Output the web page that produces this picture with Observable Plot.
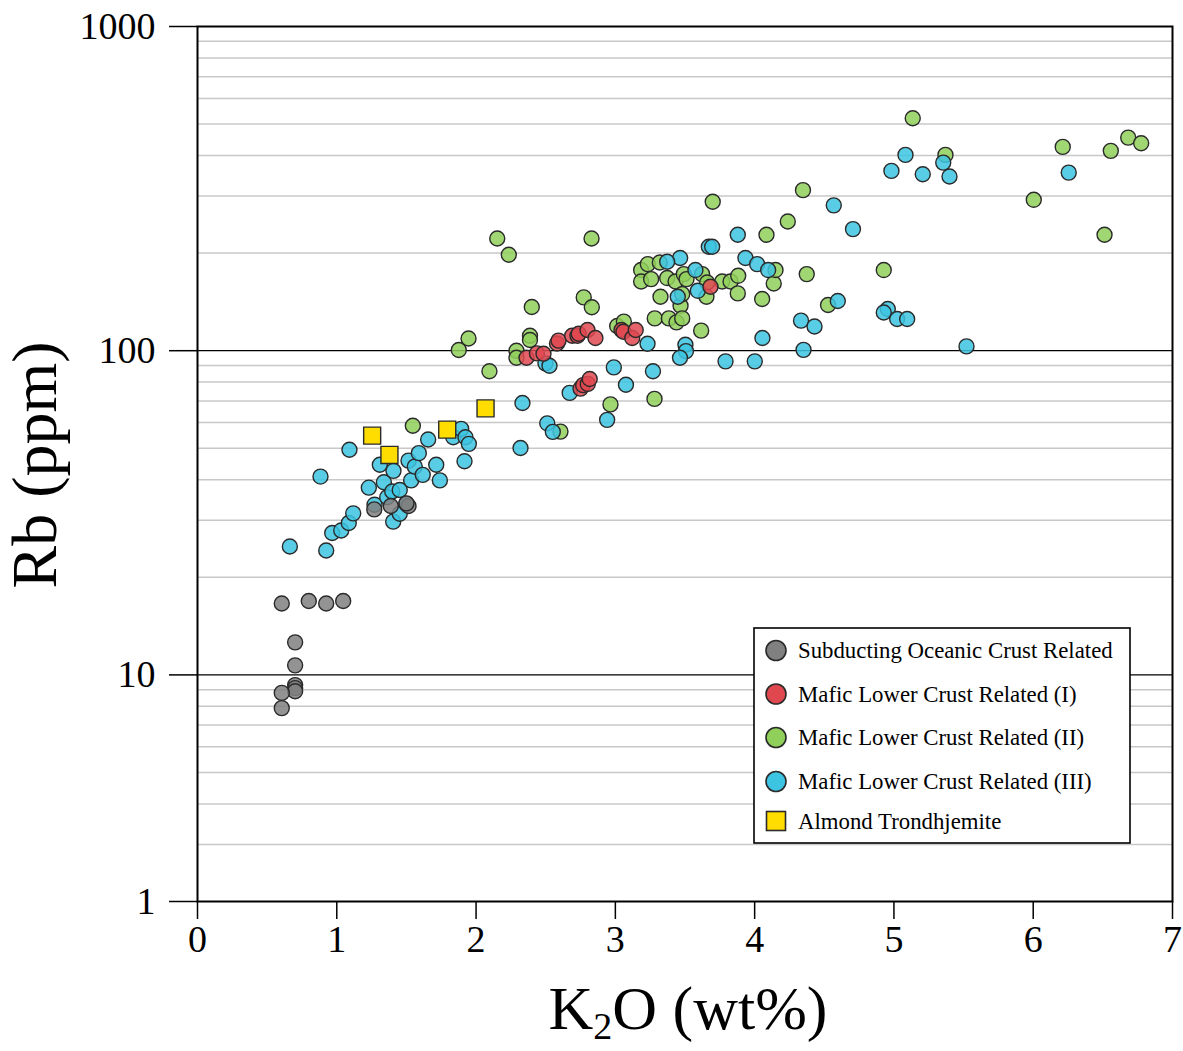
<!DOCTYPE html>
<html>
<head>
<meta charset="utf-8">
<script src="https://cdn.jsdelivr.net/npm/d3@7"></script>
<script src="https://cdn.jsdelivr.net/npm/@observablehq/plot@0.6"></script>
<style>
  body { margin: 0; background: #fff; }
  svg { display: block; }
</style>
</head>
<body>
<div id="chart"></div>
<script>
// ---------- data ----------
const seriesNames = [
  "Subducting Oceanic Crust Related",
  "Mafic Lower Crust Related (I)",
  "Mafic Lower Crust Related (II)",
  "Mafic Lower Crust Related (III)",
  "Almond Trondhjemite"
];
const seriesColors = ["#808080", "#e04850", "#90d05a", "#3cc4e2", "#ffdd00"];

const subK2O = [0.605,0.799,0.924,1.046,0.701,0.701,0.701,0.701,0.701,0.605,0.605,1.269,1.388,1.515,1.50];
const subRb  = [16.6,16.9,16.6,16.9,12.6,10.7,9.3,9.1,8.9,8.8,7.9,32.4,33.2,33.2,33.8];

const m1K2O = [2.362,2.437,2.484,2.581,2.592,2.690,2.728,2.737,2.800,2.857,3.044,3.058,3.121,3.146,2.750,2.769,2.802,2.816,3.683];
const m1Rb  = [95.1,98.1,97.9,105.3,107.4,111.2,111.2,112.8,115.8,109.4,115.8,114.4,109.4,115.8,76.4,78.3,79.0,81.8,157.5];

const m2K2O = [1.546,1.876,1.946,2.096,2.152,2.235,2.290,2.290,2.387,2.387,2.400,2.606,2.773,2.831,2.829,2.965,3.281,3.013,3.061,3.185,3.233,3.319,3.185,3.257,3.372,3.432,3.491,3.511,3.623,3.659,3.654,3.767,3.827,3.882,3.879,3.324,3.468,3.480,3.283,3.384,3.439,3.480,3.616,3.699,4.054,4.085,4.137,4.150,4.238,4.347,4.374,4.527,4.927,5.135,5.370,6.212,6.557,6.682,6.775,6.004,6.512];
const m2Rb  = [58.7,100.5,109.1,86.4,221.9,197.7,100.0,95.1,111.2,107.9,136.4,56.3,146.0,136.2,221.9,68.3,71.0,119.2,122.9,177.3,185.0,187.1,163.5,166.3,167.5,163.5,172.3,166.3,172.3,162.3,146.7,163.5,163.5,170.2,150.2,146.7,137.6,149.5,125.8,125.8,122.3,125.8,115.3,287.9,144.3,227.8,161.2,177.3,250.3,312.8,172.3,138.4,177.3,521.3,401.8,425.3,413.4,454.3,436.6,292.0,227.8];

const m3K2O = [0.663,0.924,0.883,1.091,0.967,1.032,1.086,1.118,1.230,1.271,1.309,1.338,1.362,1.398,1.407,1.405,1.452,1.452,1.500,1.515,1.534,1.560,1.589,1.617,1.656,1.714,1.740,1.836,1.893,1.924,1.948,1.917,2.319,2.498,2.527,2.989,3.076,2.672,2.333,2.511,2.551,2.941,3.231,3.270,3.503,3.507,3.464,3.465,3.372,3.575,3.592,3.448,3.671,3.695,3.879,3.934,4.018,4.097,4.568,4.706,4.597,4.333,4.430,4.056,4.351,3.791,4.001,5.083,4.982,5.207,5.354,5.399,6.255,4.956,4.927,5.023,5.095,5.521];
const m3Rb  = [24.9,24.2,40.9,49.5,27.4,27.9,29.4,31.5,37.8,33.5,44.5,39.3,35.3,36.8,42.6,29.7,37.2,31.4,33.7,45.8,39.8,43.9,48.3,41.4,53.2,44.5,39.8,54.1,57.4,54.1,51.6,45.6,50.1,91.4,89.9,88.8,78.5,74.1,69.0,59.7,56.2,61.2,105.1,86.4,104.3,99.7,95.1,193.1,188.1,177.3,153.0,146.7,209.2,209.2,227.8,193.1,185.0,177.3,280.8,237.2,142.3,123.8,118.8,109.4,100.6,92.7,92.7,401.8,358.6,350.3,380.4,344.5,354.3,134.4,131.2,125.2,125.2,103.1];

const almK2O = [1.254,1.378,1.793,2.068];
const almRb  = [54.7,47.7,57.1,66.4];

const xTicks = [0,1,2,3,4,5,6,7];
const yTickValues = [2,10,100,1000];
const yTickLabels = ["1","10","100","1000"];
const majorGrid = [10,100];
const minorGrid = [3,4,5,6,7,8,9,20,30,40,50,60,70,80,90,200,300,400,500,600,700,800,900];

// ---------- build ----------
const rows = (xs, ys) => xs.map((x, i) => ({x, y: ys[i]}));
const sub = rows(subK2O, subRb), m1 = rows(m1K2O, m1Rb), m2 = rows(m2K2O, m2Rb),
      m3 = rows(m3K2O, m3Rb), alm = rows(almK2O, almRb);

const W = 1183, H = 1051;
const dotOpts = (c) => ({x: "x", y: "y", r: 7.5, fill: c, fillOpacity: 0.85, stroke: "#2a2a2a", strokeWidth: 1.4});

const chart = Plot.plot({
  width: W, height: H,
  marginLeft: 197, marginRight: 11, marginTop: 26, marginBottom: 150,
  style: {fontFamily: "'Liberation Serif', 'Times New Roman', serif", fontSize: "38px", background: "#fff", color: "#000"},
  x: {domain: [0, 7]},
  y: {type: "log", domain: [2, 1000]},
  marks: [
    Plot.ruleY(minorGrid, {stroke: "#c8c8c8", strokeWidth: 1.5}),
    Plot.ruleY(majorGrid, {stroke: "#000", strokeWidth: 1.3}),
    Plot.dot(m2, dotOpts(seriesColors[2])),
    Plot.dot(m3, dotOpts(seriesColors[3])),
    Plot.dot(m1, dotOpts(seriesColors[1])),
    Plot.dot(sub, dotOpts(seriesColors[0])),
    Plot.dot(alm, {x: "x", y: "y", symbol: "square", r: 9.6, fill: seriesColors[4], stroke: "#2a2a2a", strokeWidth: 1.4}),
    Plot.frame({stroke: "#000", strokeWidth: 2}),
    Plot.axisX({ticks: xTicks, tickSize: 18, tickPadding: 6, strokeWidth: 1.5, label: null, tickFormat: d => String(d)}),
    Plot.axisY({ticks: yTickValues, tickSize: 28, tickPadding: 14, strokeWidth: 1.5, label: null,
                tickFormat: d => yTickLabels[yTickValues.indexOf(d)]})
  ]
});

document.getElementById("chart").appendChild(chart);

// ---------- axis titles and legend ----------
const svg = d3.select(chart);
const font = "'Liberation Serif', 'Times New Roman', serif";

const xt = svg.append("text")
  .attr("x", 688).attr("y", 1029)
  .attr("text-anchor", "middle")
  .attr("font-family", font).attr("font-size", 62).attr("fill", "#000");
xt.append("tspan").text("K");
xt.append("tspan").attr("font-size", 38).attr("dy", 10).text("2");
xt.append("tspan").attr("dy", -10).text("O (wt%)");

svg.append("text")
  .attr("transform", "translate(56,465) rotate(-90)")
  .attr("text-anchor", "middle")
  .attr("font-family", font).attr("font-size", 64).attr("fill", "#000")
  .text("Rb (ppm)");

const lg = svg.append("g").attr("text-anchor", "start");
lg.append("rect").attr("x", 754).attr("y", 628).attr("width", 376).attr("height", 215)
  .attr("fill", "#fff").attr("stroke", "#000").attr("stroke-width", 1.6);
const rowY = [650.5, 694, 737.5, 781.5, 821];
seriesNames.forEach((name, i) => {
  if (i < 4) {
    lg.append("circle").attr("cx", 776).attr("cy", rowY[i]).attr("r", 10)
      .attr("fill", seriesColors[i]).attr("stroke", "#2a2a2a").attr("stroke-width", 1.6);
  } else {
    lg.append("rect").attr("x", 766.5).attr("y", rowY[i] - 9.5).attr("width", 19).attr("height", 19)
      .attr("fill", seriesColors[i]).attr("stroke", "#2a2a2a").attr("stroke-width", 1.6);
  }
  lg.append("text").attr("x", 798).attr("y", rowY[i]).attr("dy", "0.35em")
    .attr("text-anchor", "start")
    .attr("font-family", font).attr("font-size", 22.8).attr("fill", "#000").text(name);
});
</script>
</body>
</html>
